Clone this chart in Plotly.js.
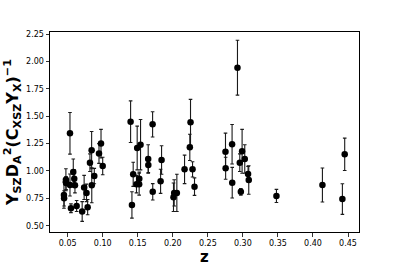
<!DOCTYPE html>
<html>
<head>
<meta charset="utf-8">
<script src="https://cdn.plot.ly/plotly-3.0.1.min.js"></script>
<style>html,body{margin:0;padding:0;background:#fff;}#chart{width:399px;height:266px;}</style>
</head>
<body>
<div id="chart"></div>
<script>
// Redshift of each cluster
const z = [
  0.0447, 0.0449, 0.0475, 0.0477, 0.0533, 0.0533, 0.0547, 0.0580, 0.0594, 0.0604, 0.0628,
  0.0707, 0.0735, 0.0769, 0.0785, 0.0818, 0.0842, 0.0844, 0.0880, 0.0947, 0.0976, 0.1000,
  0.1398, 0.1417, 0.1435, 0.1482, 0.1520, 0.1522, 0.1492, 0.1540, 0.1649, 0.1651, 0.1712, 0.1714, 0.1840, 0.1826,
  0.2020, 0.2058, 0.2010, 0.2168, 0.2243, 0.2253, 0.2282, 0.2310,
  0.2923, 0.2752, 0.2754, 0.2846, 0.2848, 0.2989, 0.2956, 0.3027, 0.2971, 0.3074, 0.3084,
  0.3479, 0.4135, 0.4420, 0.4453
];
// Y_SZ D_A^2 (C_XSZ Y_X)^-1
const ratio = [
  0.78, 0.75, 0.92, 0.89, 0.872, 1.344, 0.66, 0.99, 0.93, 0.87, 0.68,
  0.63, 0.85, 0.80, 0.67, 1.076, 1.19, 0.87, 0.954, 1.16, 1.25, 1.046,
  1.45, 0.69, 0.97, 0.88, 0.88, 0.93, 1.21, 1.24, 1.11, 1.055, 1.426, 0.81, 1.10, 0.906,
  0.80, 0.80, 0.76, 1.015, 1.216, 1.444, 1.015, 0.857,
  1.943, 1.176, 1.025, 1.244, 0.893, 1.18, 1.076, 1.11, 0.81, 0.972, 0.918,
  0.772, 0.872, 0.744, 1.152
];
// 1-sigma uncertainty
const ratioErr = [
  0.12, 0.07, 0.10, 0.06, 0.10, 0.19, 0.04, 0.12, 0.08, 0.07, 0.05,
  0.09, 0.11, 0.08, 0.07, 0.08, 0.17, 0.16, 0.07, 0.09, 0.13, 0.08,
  0.19, 0.12, 0.11, 0.08, 0.10, 0.06, 0.20, 0.23, 0.13, 0.07, 0.115, 0.075, 0.13, 0.11,
  0.12, 0.17, 0.13, 0.13, 0.12, 0.21, 0.07, 0.08,
  0.25, 0.17, 0.10, 0.18, 0.14, 0.20, 0.08, 0.13, 0.03, 0.07, 0.13,
  0.06, 0.155, 0.14, 0.148
];
const xTicks = [0.05, 0.10, 0.15, 0.20, 0.25, 0.30, 0.35, 0.40, 0.45];
const xTickText = ['0.05','0.10','0.15','0.20','0.25','0.30','0.35','0.40','0.45'];
const yTicks = [0.50, 0.75, 1.00, 1.25, 1.50, 1.75, 2.00, 2.25];
const yTickText = ['0.50','0.75','1.00','1.25','1.50','1.75','2.00','2.25'];
const xTitle = '<b>z</b>';

const font = 'DejaVu Sans, sans-serif';
const trace = {
  x: z, y: ratio, type: 'scatter', mode: 'markers',
  marker: {color: '#000', size: 6.5},
  error_y: {type: 'data', array: ratioErr, visible: true, color: '#1a1a1a', thickness: 1.1, width: 1.8},
  hoverinfo: 'skip'
};
const axisCommon = {
  showline: true, mirror: true, linecolor: '#000', linewidth: 1,
  ticks: 'outside', ticklen: 3.5, tickwidth: 0.8, tickcolor: '#000',
  showgrid: false, zeroline: false,
  tickfont: {family: font, size: 8, color: '#000'}
};
const layout = {
  width: 399, height: 266,
  margin: {l: 50, r: 40, t: 32, b: 34},
  paper_bgcolor: '#fff', plot_bgcolor: '#fff',
  showlegend: false,
  font: {family: font, color: '#000'},
  xaxis: Object.assign({}, axisCommon, {
    range: [0.0248, 0.4657], tickmode: 'array', tickvals: xTicks, ticktext: xTickText
  }),
  yaxis: Object.assign({}, axisCommon, {
    range: [0.443, 2.269], tickmode: 'array', tickvals: yTicks, ticktext: yTickText,
    title: {text: '<b>Y<sub>SZ</sub>D<sub>A</sub><sup>2</sup>(C<sub>XSZ</sub>Y<sub>X</sub>)<sup>−1</sup></b>',
            font: {family: font, size: 16, color: '#000'}, standoff: 3}
  }),
  annotations: [{
    text: xTitle, xref: 'paper', yref: 'paper', x: 0.5, y: 0,
    xanchor: 'center', yanchor: 'top', yshift: -15, borderpad: 0, showarrow: false,
    font: {family: font, size: 15, color: '#000'}
  }]
};
Plotly.newPlot('chart', [trace], layout, {staticPlot: true, displayModeBar: false});
</script>
</body>
</html>
